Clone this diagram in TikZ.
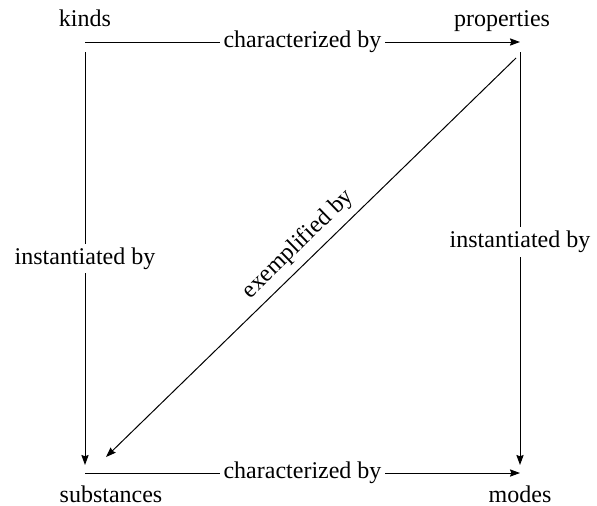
\documentclass[tikz,border=0pt]{standalone}
\usepackage{fontspec}
\setmainfont{LiberationSerif}[Extension=.ttf, UprightFont=*-Regular]
\usetikzlibrary{arrows.meta}

\begin{document}
\begin{tikzpicture}[x=0.5pt, y=-0.5pt, font=\fontsize{12}{14}\selectfont,
    arr/.style={-{Stealth[length=5pt, width=3.6pt, inset=0.6pt]}, line width=0.5pt},
    lbl/.style={fill=white, inner sep=2pt}]
    \useasboundingbox (0,0) rectangle (597,505);

    \node[anchor=base] (kinds) at (85,26) {kinds};
    \node[anchor=base] (properties) at (502,26) {properties};
    \node[anchor=base] (substances) at (111,502) {substances};
    \node[anchor=base] (modes) at (520,502) {modes};

    % line ends at the corners
    \coordinate (kE) at (85,42);
    \coordinate (kS) at (85,52);
    \coordinate (pW) at (520,42);
    \coordinate (pS) at (520,52);
    \coordinate (pSW) at (516,58);
    \coordinate (sN) at (85,465);
    \coordinate (sNE) at (106,457);
    \coordinate (sE) at (85,473);
    \coordinate (mW) at (520,473);
    \coordinate (mN) at (520,465);

    \draw[arr] (kE) -- node[lbl] {characterized by} (pW);
    \draw[arr] (sE) -- node[lbl] {characterized by} (mW);
    \draw[arr] (kS) -- node[lbl] {instantiated by} (sN);
    \draw[arr] (pS) -- node[lbl, pos=0.46] {instantiated by} (mN);
    \draw[arr] (pSW) -- node[above, sloped] {exemplified by} (sNE);
\end{tikzpicture}
\end{document}
